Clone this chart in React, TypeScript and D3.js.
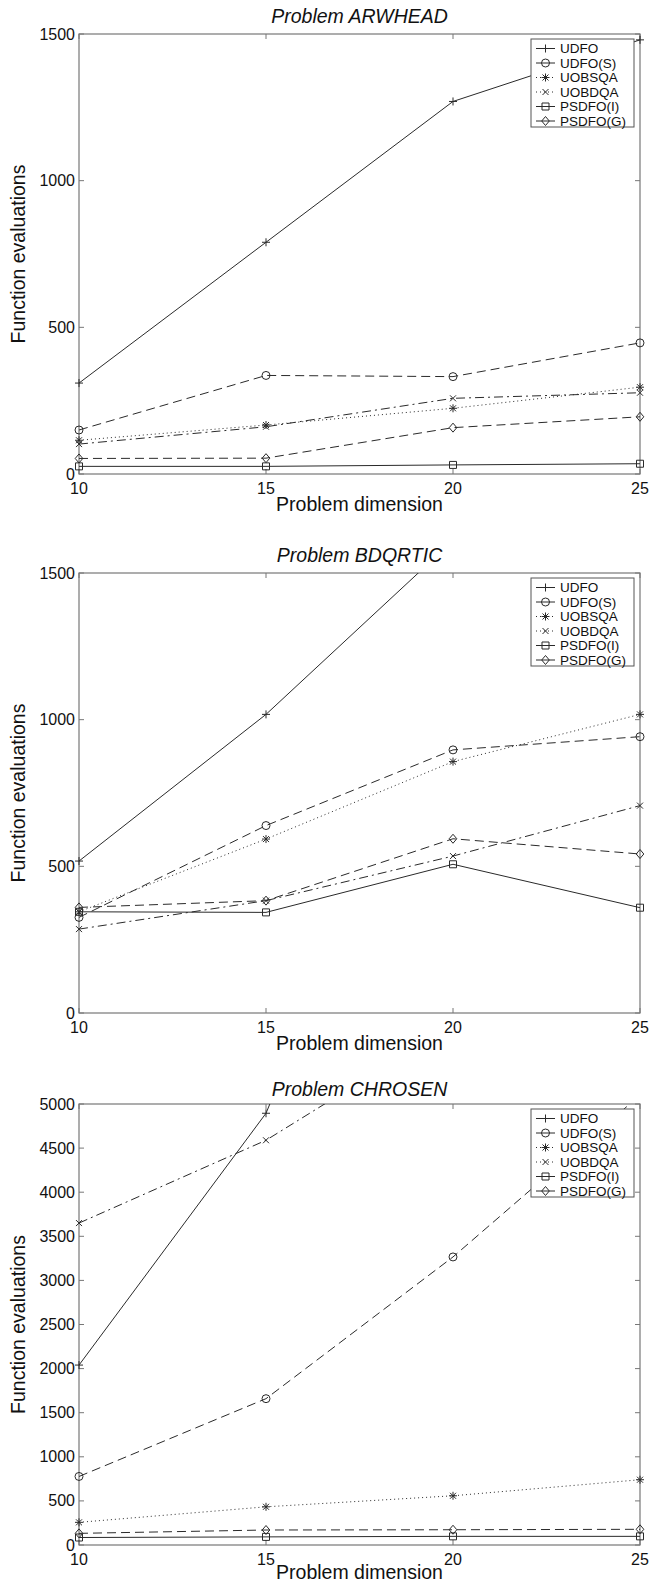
import React, { useEffect, useRef } from 'react';
import * as d3 from 'd3';

// problem dimension (x axis)
const dims = [10, 15, 20, 25];
const seriesNames = ['UDFO', 'UDFO(S)', 'UOBSQA', 'UOBDQA', 'PSDFO(I)', 'PSDFO(G)'];
const titles = ['Problem ARWHEAD', 'Problem BDQRTIC', 'Problem CHROSEN'];
const yTicksA = [0, 500, 1000, 1500];
const yTicksB = [0, 500, 1000, 1500];
const yTicksC = [0, 500, 1000, 1500, 2000, 2500, 3000, 3500, 4000, 4500, 5000];

// ARWHEAD
const arwUDFO = [310, 790, 1270, 1480];
const arwUDFOS = [150, 336, 332, 447];
const arwUOBSQA = [115, 167, 224, 296];
const arwUOBDQA = [102, 161, 258, 277];
const arwPSDFOI = [26, 26, 31, 35];
const arwPSDFOG = [53, 54, 158, 195];

// BDQRTIC
const bdqUDFO = [518, 1018, 1610, 2200];
const bdqUDFOS = [326, 639, 897, 942];
const bdqUOBSQA = [345, 593, 857, 1018];
const bdqUOBDQA = [286, 383, 535, 707];
const bdqPSDFOI = [345, 343, 507, 359];
const bdqPSDFOG = [360, 383, 594, 542];

// CHROSEN
const chrUDFO = [2040, 4895, 10000, 15000];
const chrUDFOS = [777, 1659, 3266, 5100];
const chrUOBSQA = [257, 433, 558, 740];
const chrUOBDQA = [3650, 4589, 5900, 7000];
const chrPSDFOI = [85, 92, 98, 98];
const chrPSDFOG = [132, 170, 173, 178];

const panels = [
  { title: titles[0], yMax: 1500, yTicks: yTicksA, series: [arwUDFO, arwUDFOS, arwUOBSQA, arwUOBDQA, arwPSDFOI, arwPSDFOG] },
  { title: titles[1], yMax: 1500, yTicks: yTicksB, series: [bdqUDFO, bdqUDFOS, bdqUOBSQA, bdqUOBDQA, bdqPSDFOI, bdqPSDFOG] },
  { title: titles[2], yMax: 5000, yTicks: yTicksC, series: [chrUDFO, chrUDFOS, chrUOBSQA, chrUOBDQA, chrPSDFOI, chrPSDFOG] },
];

// matlab-ish line styles per series
const dashes = [null, '9,5', '1,3', '9,4,2,4', null, '9,5'];
const markerPaths = [
  'M-4,0H4M0,-4V4',
  'M4,0A4,4 0 1,1 -4,0A4,4 0 1,1 4,0',
  'M-4,0H4M0,-4V4M-3,-3L3,3M-3,3L3,-3',
  'M-3,-3L3,3M-3,3L3,-3',
  'M-3.5,-3.5H3.5V3.5H-3.5Z',
  'M0,-4.5L3.8,0L0,4.5L-3.8,0Z',
];

const tops = [34, 573, 1104];
const heights = [440, 440, 441];
const titleGap = [11, 11, 8];
const xLabelGap = [37, 37, 34];
const left = 79, right = 640;
const font = '"Liberation Sans", Arial, Helvetica, sans-serif';
const lineCol = '#2a2a2a';
const axisCol = '#777';

export default function App() {
  const ref = useRef<SVGSVGElement>(null);

  useEffect(() => {
    const svg = d3.select(ref.current);
    svg.selectAll('*').remove();
    svg.append('rect').attr('width', 649).attr('height', 1584).attr('fill', '#fff');

    panels.forEach((p, pi) => {
      const top = tops[pi];
      const bottom = top + heights[pi];
      const x = d3.scaleLinear().domain([10, 25]).range([left, right]);
      const y = d3.scaleLinear().domain([0, p.yMax]).range([bottom, top]);
      const g = svg.append('g').style('font-family', font);

      const clipId = 'clip' + pi;
      g.append('clipPath').attr('id', clipId)
        .append('rect')
        .attr('x', left).attr('y', top)
        .attr('width', right - left).attr('height', bottom - top);

      /* box + inward ticks on all four sides */
      g.append('rect')
        .attr('x', left).attr('y', top)
        .attr('width', right - left).attr('height', bottom - top)
        .attr('fill', 'none').attr('stroke', axisCol).attr('stroke-width', 1.2);

      p.yTicks.forEach(t => {
        g.append('line').attr('x1', left).attr('x2', left + 5).attr('y1', y(t)).attr('y2', y(t)).attr('stroke', axisCol);
        g.append('line').attr('x1', right).attr('x2', right - 5).attr('y1', y(t)).attr('y2', y(t)).attr('stroke', axisCol);
        g.append('text')
          .attr('x', left - 4).attr('y', y(t) + 5.5)
          .attr('text-anchor', 'end').attr('font-size', 16).attr('fill', '#111')
          .text(t);
      });
      dims.forEach(t => {
        g.append('line').attr('x1', x(t)).attr('x2', x(t)).attr('y1', bottom).attr('y2', bottom - 5).attr('stroke', axisCol);
        g.append('line').attr('x1', x(t)).attr('x2', x(t)).attr('y1', top).attr('y2', top + 5).attr('stroke', axisCol);
        g.append('text')
          .attr('x', x(t)).attr('y', bottom + 19.5)
          .attr('text-anchor', 'middle').attr('font-size', 16).attr('fill', '#111')
          .text(t);
      });

      // labels
      g.append('text')
        .attr('x', (left + right) / 2).attr('y', top - titleGap[pi])
        .attr('text-anchor', 'middle').attr('font-size', 19.5).attr('font-style', 'italic').attr('fill', '#111')
        .text(p.title);
      g.append('text')
        .attr('x', (left + right) / 2).attr('y', bottom + xLabelGap[pi])
        .attr('text-anchor', 'middle').attr('font-size', 19.5).attr('fill', '#111')
        .text('Problem dimension');
      g.append('text')
        .attr('transform', `translate(25,${(top + bottom) / 2}) rotate(-90)`)
        .attr('text-anchor', 'middle').attr('font-size', 19.5).attr('fill', '#111')
        .text('Function evaluations');

      /* the series */
      const line = d3.line<number>().x((d, i) => x(dims[i])).y(d => y(d));
      const plot = g.append('g');
      p.series.forEach((vals, si) => {
        plot.append('path')
          .attr('d', line(vals))
          .attr('clip-path', `url(#${clipId})`)
          .attr('fill', 'none').attr('stroke', lineCol).attr('stroke-width', 1)
          .attr('stroke-dasharray', dashes[si]);
        vals.forEach((v, i) => {
          if (v > p.yMax) return;
          plot.append('path')
            .attr('d', markerPaths[si])
            .attr('transform', `translate(${x(dims[i])},${y(v)})`)
            .attr('fill', 'none').attr('stroke', lineCol).attr('stroke-width', 1);
        });
      });

      /* legend */
      const lx = 531, ly = top + 5, lw = 103, lh = 88;
      const leg = g.append('g');
      leg.append('rect')
        .attr('x', lx).attr('y', ly).attr('width', lw).attr('height', lh)
        .attr('fill', '#fff').attr('stroke', '#555').attr('stroke-width', 1);
      seriesNames.forEach((name, si) => {
        const ry = ly + 9.5 + si * 14.5;
        leg.append('line')
          .attr('x1', lx + 5).attr('x2', lx + 24).attr('y1', ry).attr('y2', ry)
          .attr('stroke', lineCol).attr('stroke-width', 1)
          .attr('stroke-dasharray', si === 2 || si === 3 ? '1,3' : null);
        leg.append('path')
          .attr('d', markerPaths[si])
          .attr('transform', `translate(${lx + 14.5},${ry})`)
          .attr('fill', 'none').attr('stroke', lineCol).attr('stroke-width', 1);
        leg.append('text')
          .attr('x', lx + 29).attr('y', ry + 4.8)
          .attr('font-size', 13.5).attr('fill', '#111')
          .text(name);
      });
    });
  }, []);

  return (
    <svg ref={ref} width={649} height={1584} style={{ position: 'absolute', left: 0, top: 0 }} />
  );
}
